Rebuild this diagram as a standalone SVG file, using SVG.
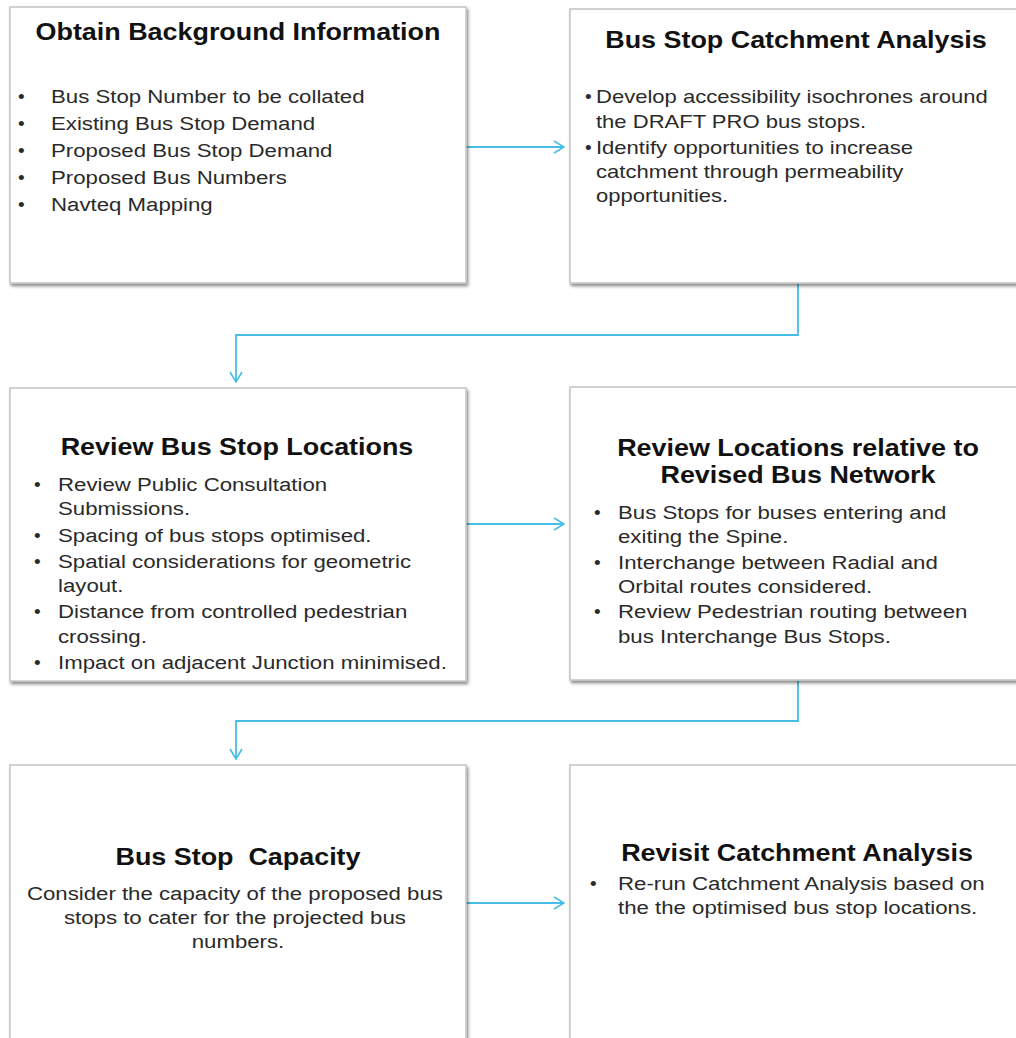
<svg xmlns="http://www.w3.org/2000/svg" width="1016" height="1038" viewBox="0 0 1016 1038">
<defs>
<filter id="sh" x="-5%" y="-5%" width="115%" height="115%">
<feDropShadow dx="1.5" dy="2.5" stdDeviation="1.5" flood-color="#000" flood-opacity="0.45"/>
</filter>
<marker id="ah" viewBox="0 0 12 14" refX="11" refY="7" markerWidth="12" markerHeight="14" markerUnits="userSpaceOnUse" orient="auto">
<path d="M1,1 L11,7 L1,13" fill="none" stroke="#45bde6" stroke-width="1.6"/>
</marker>
<style>
.box{fill:#fff;stroke:#c4c4c4;stroke-width:1.5;filter:url(#sh)}
.t{font-family:"Liberation Sans",Arial,sans-serif;font-weight:bold;font-size:23px;fill:#111;text-anchor:middle}
.b{font-family:"Liberation Sans",Arial,sans-serif;font-size:19px;fill:#2a2a2a}
.c{text-anchor:middle}
.dot{font-family:"Liberation Sans",Arial,sans-serif;font-size:19px;fill:#2a2a2a}
.conn{fill:none;stroke:#45bde6;stroke-width:1.8}
</style>
</defs>
<rect width="1016" height="1038" fill="#fff"/>

<g id="connectors">
<path class="conn" d="M466,147 L564,147" marker-end="url(#ah)"/>
<path class="conn" d="M798,283 L798,335 L236,335 L236,382" marker-end="url(#ah)"/>
<path class="conn" d="M466,524 L564,524" marker-end="url(#ah)"/>
<path class="conn" d="M798,680 L798,721 L236,721 L236,759" marker-end="url(#ah)"/>
<path class="conn" d="M466,903 L564,903" marker-end="url(#ah)"/>
</g>

<g id="n1">
<rect class="box" x="10" y="7" width="456" height="276"/>
<text class="t" transform="translate(238,40) scale(1.17,1)" x="0" y="0">Obtain Background Information</text>
<text class="dot" x="18" y="103">•</text>
<text class="dot" x="18" y="130">•</text>
<text class="dot" x="18" y="157">•</text>
<text class="dot" x="18" y="184">•</text>
<text class="dot" x="18" y="211">•</text>
<text class="b" transform="translate(51,0) scale(1.17,1)">
<tspan x="0" y="103">Bus Stop Number to be collated</tspan>
<tspan x="0" y="130">Existing Bus Stop Demand</tspan>
<tspan x="0" y="157">Proposed Bus Stop Demand</tspan>
<tspan x="0" y="184">Proposed Bus Numbers</tspan>
<tspan x="0" y="211">Navteq Mapping</tspan>
</text>
</g>

<g id="n2">
<rect class="box" x="570" y="9" width="460" height="274"/>
<text class="t" transform="translate(796,48) scale(1.17,1)" x="0" y="0">Bus Stop Catchment Analysis</text>
<text class="dot" x="585" y="103">•</text>
<text class="dot" x="585" y="154">•</text>
<text class="b" transform="translate(596,0) scale(1.16,1)">
<tspan x="0" y="103">Develop accessibility isochrones around</tspan>
<tspan x="0" y="128">the DRAFT PRO bus stops.</tspan>
<tspan x="0" y="154">Identify opportunities to increase</tspan>
<tspan x="0" y="178">catchment through permeability</tspan>
<tspan x="0" y="202">opportunities.</tspan>
</text>
</g>

<g id="n3">
<rect class="box" x="10" y="388" width="456" height="293"/>
<text class="t" transform="translate(237,455) scale(1.17,1)" x="0" y="0">Review Bus Stop Locations</text>
<text class="dot" x="34" y="491">•</text>
<text class="dot" x="34" y="542">•</text>
<text class="dot" x="34" y="568">•</text>
<text class="dot" x="34" y="618">•</text>
<text class="dot" x="34" y="669">•</text>
<text class="b" transform="translate(58,0) scale(1.17,1)">
<tspan x="0" y="491">Review Public Consultation</tspan>
<tspan x="0" y="515">Submissions.</tspan>
<tspan x="0" y="542">Spacing of bus stops optimised.</tspan>
<tspan x="0" y="568">Spatial considerations for geometric</tspan>
<tspan x="0" y="592">layout.</tspan>
<tspan x="0" y="618">Distance from controlled pedestrian</tspan>
<tspan x="0" y="643">crossing.</tspan>
<tspan x="0" y="669">Impact on adjacent Junction minimised.</tspan>
</text>
</g>

<g id="n4">
<rect class="box" x="570" y="387" width="460" height="293"/>
<text class="t" transform="translate(798,0) scale(1.17,1)"><tspan x="0" y="456">Review Locations relative to</tspan><tspan x="0" y="483">Revised Bus Network</tspan></text>
<text class="dot" x="594" y="519">•</text>
<text class="dot" x="594" y="569">•</text>
<text class="dot" x="594" y="618">•</text>
<text class="b" transform="translate(618,0) scale(1.17,1)">
<tspan x="0" y="519">Bus Stops for buses entering and</tspan>
<tspan x="0" y="543">exiting the Spine.</tspan>
<tspan x="0" y="569">Interchange between Radial and</tspan>
<tspan x="0" y="593">Orbital routes considered.</tspan>
<tspan x="0" y="618">Review Pedestrian routing between</tspan>
<tspan x="0" y="643">bus Interchange Bus Stops.</tspan>
</text>
</g>

<g id="n5">
<rect class="box" x="10" y="765" width="456" height="290"/>
<text class="t" transform="translate(238,865) scale(1.17,1)" x="0" y="0" xml:space="preserve">Bus Stop  Capacity</text>
<text class="b c" transform="translate(238,0) scale(1.17,1)">
<tspan x="0" y="900">Consider the capacity of the proposed bus</tspan>
<tspan x="0" y="924">stops to cater for the projected bus</tspan>
<tspan x="0" y="948">numbers.</tspan>
</text>
</g>

<g id="n6">
<rect class="box" x="570" y="765" width="460" height="290"/>
<text class="t" transform="translate(797,861) scale(1.17,1)" x="0" y="0">Revisit Catchment Analysis</text>
<text class="dot" x="590" y="890">•</text>
<text class="b" transform="translate(618,0) scale(1.17,1)">
<tspan x="0" y="890">Re-run Catchment Analysis based on</tspan>
<tspan x="0" y="914">the the optimised bus stop locations.</tspan>
</text>
</g>
</svg>
